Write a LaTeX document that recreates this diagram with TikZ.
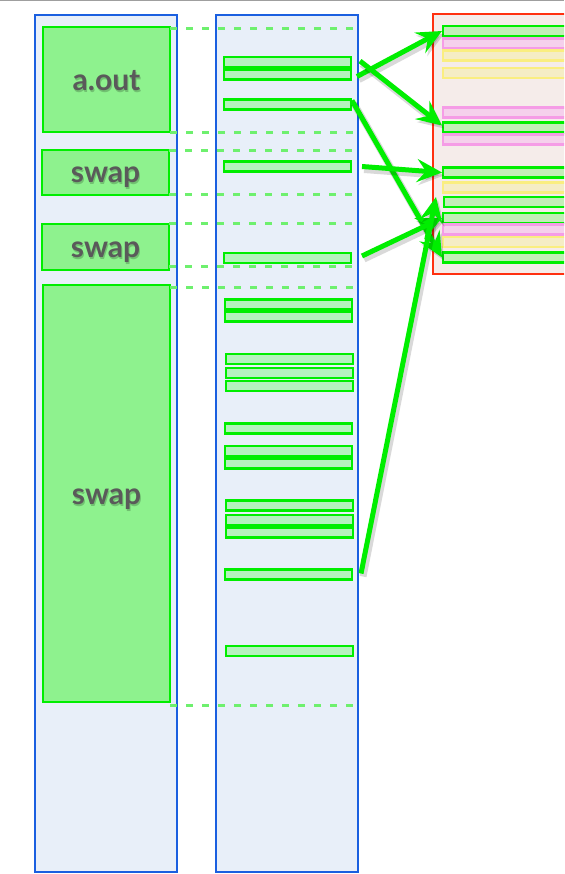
\documentclass[tikz,border=0pt]{standalone}
\usepackage{fontspec}
\setmainfont{Lato}
\usetikzlibrary{arrows.meta,calc}
\definecolor{colfill}{HTML}{E8EFF9}
\definecolor{colline}{HTML}{1A5FE0}
\definecolor{boxfill}{HTML}{8EF28E}
\definecolor{vgreen}{HTML}{00EE00}
\definecolor{barfill}{HTML}{B5F2BE}
\definecolor{redline}{HTML}{FF3010}
\definecolor{redfill}{HTML}{F5ECEA}
\definecolor{pinkfill}{HTML}{F5D0EC}
\definecolor{pinkline}{HTML}{F59CE6}
\definecolor{yelfill}{HTML}{F5EDC5}
\definecolor{yelline}{HTML}{FAEE80}
\definecolor{rgfill}{HTML}{C2EEB8}
\definecolor{guidegreen}{HTML}{6EF06E}
\definecolor{txtgray}{HTML}{5A5A5A}
\begin{document}
\begin{tikzpicture}[x=1pt,y=-1pt,
  column/.style={draw=colline, fill=colfill, line width=2.2pt, inner sep=0pt, outer sep=0pt, minimum width=142pt},
  gbox/.style={draw=vgreen, fill=boxfill, line width=2.5pt, inner sep=0pt, outer sep=0pt, minimum width=127pt},
  mbar/.style={draw=vgreen, fill=barfill, line width=2.2pt, inner sep=0pt, outer sep=0pt, minimum width=127pt, minimum height=10pt},
  rbar/.style={line width=2.2pt, inner sep=0pt, outer sep=0pt, minimum width=160pt, minimum height=10pt, anchor=west},
  rgreen/.style={rbar, draw=vgreen, fill=rgfill},
  rpink/.style={rbar, draw=pinkline, fill=pinkfill},
  ryel/.style={rbar, draw=yelline, fill=yelfill},
  guide/.style={draw=guidegreen, line width=3pt, dash pattern=on 7pt off 9pt},
  lbl/.style={text=txtgray, anchor=base, inner sep=0pt, font=\bfseries\fontsize{30}{32}\selectfont},
  lblshadow/.style={text=black, opacity=0.2, anchor=base, inner sep=0pt, font=\bfseries\fontsize{30}{32}\selectfont},
  arr/.style={draw=vgreen, line width=5pt, -{Stealth[length=25pt,width=23pt,inset=9pt]},
    preaction={draw=black, opacity=0.15, line width=7pt, transform canvas={shift={(2pt,-3pt)}}}}
]
\clip (0,0) rectangle (564,874);
\fill[white] (0,0) rectangle (564,874);
\draw[gray!75, line width=1.5pt] (0,0.6) -- (564,0.6);

% columns
\node[column, minimum height=857pt] (colA) at (106,443.5) {};
\node[column, minimum height=857pt] (colB) at (287,443.5) {};
\node[draw=redline, fill=redfill, line width=2.2pt, inner sep=0pt, outer sep=0pt,
      minimum width=170pt, minimum height=260pt] (colC) at (518,144) {};

% left green boxes
\node[gbox, minimum height=105pt] (aout) at (106.5,79.5) {};
\node[gbox, minimum height=45pt] (swapA) at (105.5,172.5) {};
\node[gbox, minimum height=46pt] (swapB) at (105.5,247) {};
\node[gbox, minimum height=417pt] (swapC) at (106.5,493.5) {};

\foreach \n/\t/\d in {aout/a.out/11.5, swapA/swap/10.5, swapB/swap/11, swapC/swap/11}{
  \node[lblshadow] at ([xshift=1pt,yshift=-\d pt-1.5pt]\n.center) {\t};
  \node[lbl] at ([yshift=-\d pt]\n.center) {\t};
}

% guide lines
\draw[guide] ([yshift=-2pt]aout.north east) -- ([yshift=-2pt]aout.north east -| colB.east);
\draw[guide] ([yshift=-1pt]aout.south east) -- ([yshift=-1pt]aout.south east -| colB.east);
\draw[guide] ([yshift=-1pt]swapA.north east) -- ([yshift=-1pt]swapA.north east -| colB.east);
\draw[guide] (swapA.south east) -- (swapA.south east -| colB.east);
\draw[guide] (swapB.north east) -- (swapB.north east -| colB.east);
\draw[guide] ([yshift=3pt]swapB.south east) -- ([yshift=3pt]swapB.south east -| colB.east);
\draw[guide] ([yshift=-2pt]swapC.north east) -- ([yshift=-2pt]swapC.north east -| colB.east);
\draw[guide] ([yshift=-3pt]swapC.south east) -- ([yshift=-3pt]swapC.south east -| colB.east);

% middle bars
\foreach \i/\x/\y in {1/287.5/62, 2/287.5/74.5, 3/287.5/104.5, 4/287.5/166.5, 5/287.5/258,
  6/288.5/304.5, 7/288.5/316.5, 8/289.5/359, 9/289.5/373, 10/289.5/386,
  11/288.5/428.5, 12/288.5/451, 13/288.5/463.5, 14/289.5/505.5, 15/289.5/520, 16/289.5/532.5,
  17/288.5/574.5, 18/289.5/651}{
  \node[mbar] (m\i) at (\x,\y) {};
}

% right bars
\node[rgreen] (r1) at (443,31) {};
\node[rpink] (r2) at (443,43.5) {};
\node[ryel] (r3) at (443,55.5) {};
\node[ryel] (r4) at (443,73) {};
\node[rpink] (r5) at (443,112.5) {};
\node[rgreen] (r6) at (443,127.5) {};
\node[rpink] (r7) at (443,139.5) {};
\node[rgreen] (r8) at (443,172.5) {};
\node[ryel] (r9) at (443,187.5) {};
\node[rgreen] (r10) at (444,202) {};
\node[rgreen] (r11) at (443,218) {};
\node[rpink] (r12) at (443,229.5) {};
\node[ryel] (r13) at (443,242) {};
\node[rgreen] (r14) at (443,257.5) {};

% arrows
\draw[arr] ([xshift=6pt,yshift=-2pt]m2.east) -- ([xshift=-1pt]r1.west);
\draw[arr] ([xshift=9pt,yshift=1pt]m1.east) -- ([xshift=-1pt,yshift=2pt]r6.west);
\draw[arr] ([xshift=1pt,yshift=4pt]m3.east) -- ([xshift=-1pt]r14.west);
\draw[arr] ([xshift=11pt]m4.east) -- ([xshift=-1pt]r8.west);
\draw[arr] ([xshift=11pt,yshift=2pt]m5.east) -- ([xshift=-1pt]r11.west);
\draw[arr] ([xshift=9pt,yshift=1pt]m17.east) -- ([xshift=-8pt,yshift=5pt]r10.west);
\end{tikzpicture}
\end{document}
